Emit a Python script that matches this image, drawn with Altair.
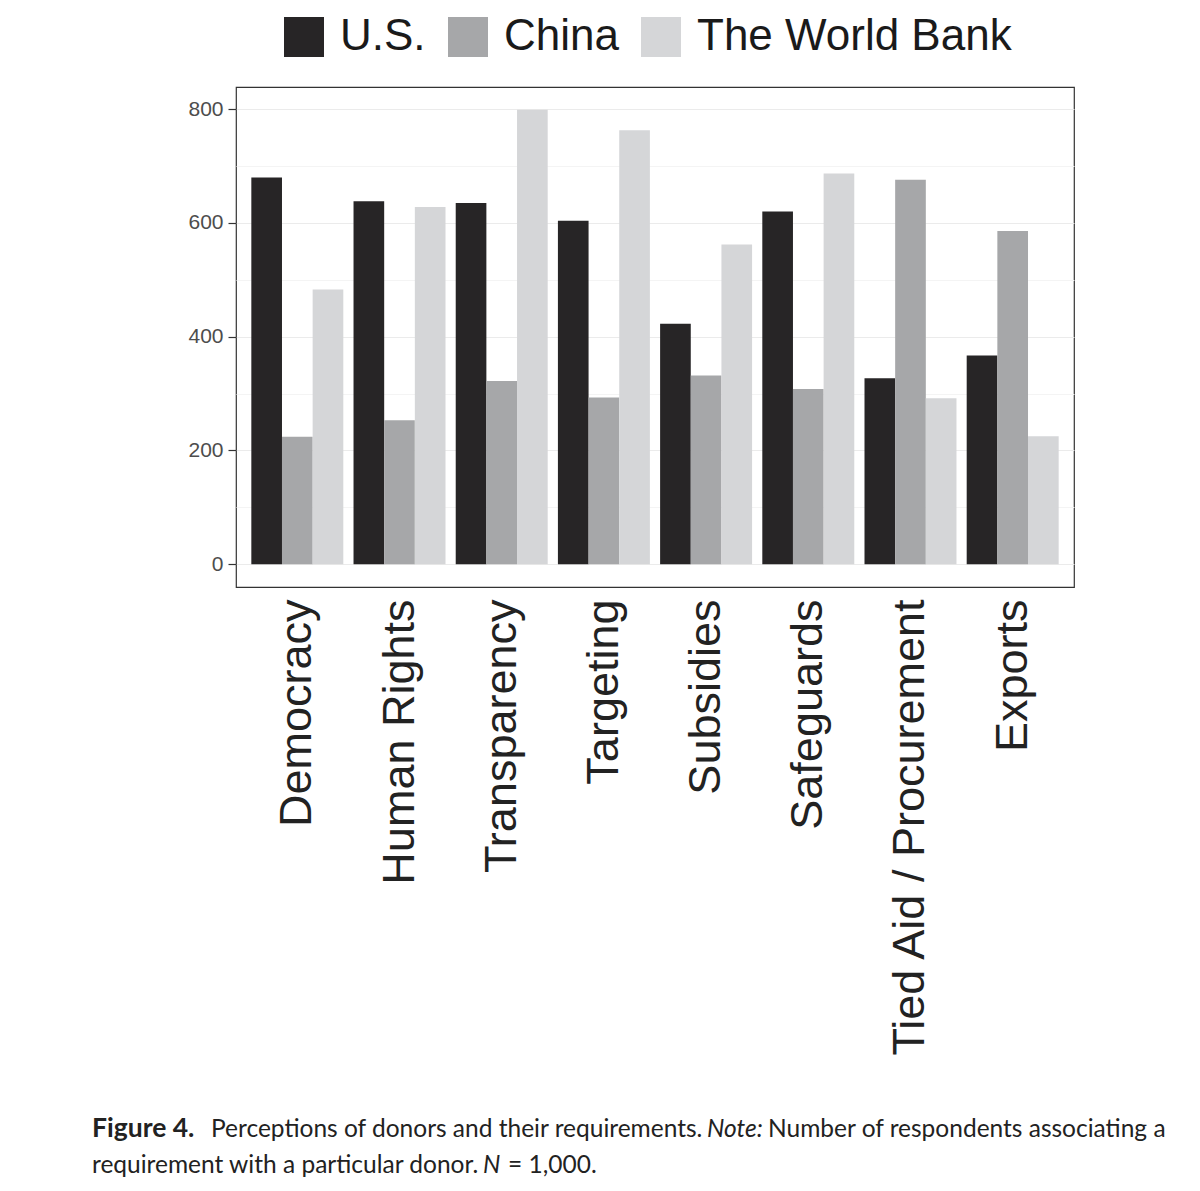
import altair as alt
import pandas as pd

categories = ["Democracy", "Human Rights", "Transparency", "Targeting",
              "Subsidies", "Safeguards", "Tied Aid / Procurement", "Exports"]
donors = ["U.S.", "China", "The World Bank"]
us_vals = [680, 638, 635, 604, 423, 620, 327, 367]
china_vals = [224, 253, 322, 293, 332, 308, 676, 586]
wb_vals = [483, 628, 799, 763, 562, 687, 292, 225]
y_ticks = [0, 100, 200, 300, 400, 500, 600, 700, 800]
colors = ["#272526", "#a6a7a9", "#d5d6d8"]

cap_bold = "Figure 4."
cap_1a = "Perceptions of donors and their requirements."
cap_note = "Note:"
cap_1b = "Number of respondents associating a"
cap_2a = "requirement with a particular donor."
cap_n = "N"
cap_2b = "= 1,000."

rows = []
for i, c in enumerate(categories):
    for d, vals in zip(donors, [us_vals, china_vals, wb_vals]):
        rows.append({"req": c, "donor": d, "count": vals[i]})
df = pd.DataFrame(rows)

bars = alt.Chart(df).mark_bar().encode(
    x=alt.X("req:N", sort=categories,
            scale=alt.Scale(paddingInner=0.1, paddingOuter=0.15),
            axis=alt.Axis(title=None, labelAngle=-90, labelAlign="right",
                          labelBaseline="middle", labelFontSize=45,
                          labelFont="Liberation Sans", labelColor="#222222",
                          labelPadding=12, ticks=False, domain=False,
                          labelLimit=0, grid=False)),
    xOffset=alt.XOffset("donor:N", sort=donors,
                        scale=alt.Scale(paddingInner=0, paddingOuter=0)),
    y=alt.Y("count:Q", scale=alt.Scale(domain=[-40, 839], nice=False, zero=False),
            axis=alt.Axis(title=None, values=y_ticks,
                          labelExpr="datum.value % 200 === 0 ? datum.label : ''",
                          labelFontSize=21, labelFont="Liberation Sans",
                          labelColor="#4d4d4d", labelPadding=5,
                          tickSize=8, tickWidth=1.2,
                          tickColor={"condition": {"test": "datum.value % 200 === 0",
                                                   "value": "#333333"},
                                     "value": "rgba(0,0,0,0)"},
                          gridColor={"condition": {"test": "datum.value % 200 === 0",
                                                   "value": "#ebebeb"},
                                     "value": "#f4f4f4"},
                          gridWidth=1.2, domain=False)),
    color=alt.Color("donor:N", sort=donors,
                    scale=alt.Scale(domain=donors, range=colors),
                    legend=alt.Legend(title=None, orient="none", direction="horizontal",
                                      legendX=46, legendY=-72,
                                      symbolType="square", symbolSize=1600,
                                      symbolStrokeWidth=0, symbolOpacity=1,
                                      labelFontSize=44, labelFont="Liberation Sans",
                                      labelColor="#1a1a1a", labelOffset=14,
                                      columnPadding=20, labelLimit=0, padding=0)),
)


def cap(text, x, y, weight="normal", style="normal", size=24.5):
    return alt.Chart(alt.Data(values=[{"t": text}])).mark_text(
        align="left", baseline="alphabetic", font="Lato", fontSize=size,
        fontWeight=weight, fontStyle=style, color="#222222"
    ).encode(x=alt.value(x), y=alt.value(y), text="t:N")


captions = [
    cap(cap_bold, -144, 1050, weight="bold", size=26.5),
    cap(cap_1a, -25, 1050),
    cap(cap_note, 471, 1050, style="italic"),
    cap(cap_1b, 532, 1050),
    cap(cap_2a, -144, 1086),
    cap(cap_n, 247, 1086, style="italic"),
    cap(cap_2b, 272, 1086),
]

chart = alt.layer(bars, *captions).properties(
    width=838, height=500,
    autosize=alt.AutoSizeParams(type="none"),
    padding={"left": 228, "top": 79, "right": 100, "bottom": 590},
    background="white",
).configure_view(stroke="#333333", strokeWidth=1.2)

chart.save("out.html", embed_options={"renderer": "svg", "actions": False})
